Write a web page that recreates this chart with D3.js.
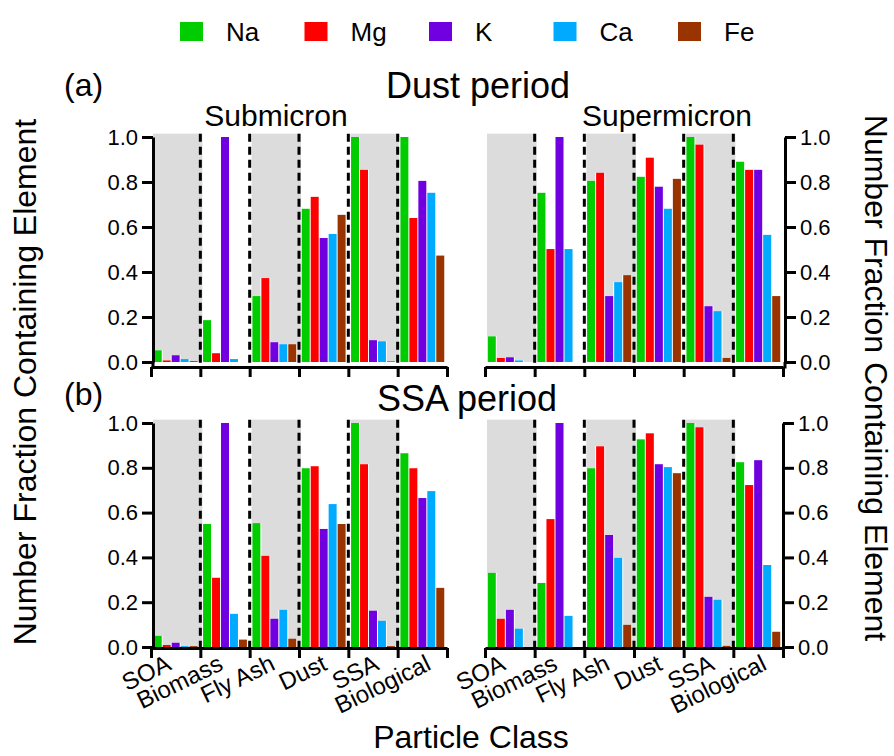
<!DOCTYPE html>
<html>
<head>
<meta charset="utf-8">
<script src="https://cdn.jsdelivr.net/npm/d3@7"></script>
<style>
  body { margin: 0; background: #fff; }
  svg text { font-family: "Liberation Sans", Arial, sans-serif; fill: #000; }
</style>
</head>
<body>
<div id="chart"></div>
<script>
// element fractions per particle class
const elements = ["Na", "Mg", "K", "Ca", "Fe"];
const colors = ["#00cc00", "#ff0000", "#7000e0", "#00aaff", "#993300"];
const classes = ["SOA", "Biomass", "Fly Ash", "Dust", "SSA", "Biological"];
const shadedClasses = ["SOA", "Fly Ash", "SSA"];
const yTicks = [0, 0.2, 0.4, 0.6, 0.8, 1.0];

// rows = classes, columns = Na, Mg, K, Ca, Fe
const dustSubmicron = [
    [0.052, 0.007, 0.030, 0.013, 0.004],
    [0.186, 0.039, 1.000, 0.013, 0.000],
    [0.293, 0.373, 0.088, 0.079, 0.079],
    [0.681, 0.734, 0.551, 0.569, 0.654],
    [1.000, 0.854, 0.097, 0.092, 0.003],
    [1.000, 0.640, 0.805, 0.752, 0.473]
];
const dustSupermicron = [
    [0.114, 0.018, 0.021, 0.007, 0.000],
    [0.752, 0.502, 1.000, 0.502, 0.000],
    [0.805, 0.841, 0.293, 0.355, 0.386],
    [0.823, 0.908, 0.779, 0.681, 0.814],
    [1.000, 0.966, 0.248, 0.226, 0.018],
    [0.890, 0.854, 0.854, 0.565, 0.293]
];
const ssaSubmicron = [
    [0.050, 0.009, 0.019, 0.004, 0.004],
    [0.549, 0.309, 1.000, 0.148, 0.033],
    [0.553, 0.407, 0.126, 0.166, 0.037],
    [0.798, 0.807, 0.527, 0.638, 0.549],
    [1.000, 0.816, 0.162, 0.117, 0.004],
    [0.865, 0.798, 0.665, 0.696, 0.264]
];
const ssaSupermicron = [
    [0.331, 0.126, 0.166, 0.082, 0.000],
    [0.286, 0.571, 1.000, 0.139, 0.000],
    [0.798, 0.896, 0.500, 0.398, 0.099],
    [0.927, 0.954, 0.816, 0.803, 0.776],
    [1.000, 0.981, 0.224, 0.211, 0.005],
    [0.825, 0.723, 0.834, 0.366, 0.068]
];

const W = 894, H = 756;
const svg = d3.select("#chart").append("svg")
    .attr("width", W).attr("height", H);

// panel layout
const panels = [
    { data: dustSubmicron,   x0: 151, x1: 447, yBase: 362, yTop: 137, axisY: 367, side: "left",  axisX: 153, labels: false },
    { data: dustSupermicron, x0: 485, x1: 783, yBase: 362, yTop: 137, axisY: 367, side: "right", axisX: 785, labels: false },
    { data: ssaSubmicron,    x0: 151, x1: 447, yBase: 647, yTop: 423, axisY: 648, side: "left",  axisX: 153, labels: true },
    { data: ssaSupermicron,  x0: 485, x1: 783, yBase: 647, yTop: 423, axisY: 648, side: "right", axisX: 783, labels: true }
];

panels.forEach(p => drawPanel(p));

function drawPanel(p) {
    const g = svg.append("g");

    const x = d3.scaleBand().domain(classes).range([p.x0, p.x1]).padding(0);
    const xIdx = d3.scaleLinear().domain([0, classes.length]).range([p.x0, p.x1]);
    const sub = d3.scaleBand().domain(elements).range([0, x.bandwidth()])
        .paddingInner(0).paddingOuter(0.25);
    const y = d3.scaleLinear().domain([0, 1]).range([p.yBase, p.yTop]);

    // gray background for alternating classes
    g.selectAll("rect.shade")
        .data(shadedClasses)
        .enter().append("rect")
        .attr("class", "shade")
        .attr("x", d => x(d) + 2)
        .attr("width", x.bandwidth())
        .attr("y", y(1.015))
        .attr("height", y(0) - y(1.015))
        .attr("fill", "#dcdcdc");

    // bars
    const groups = g.selectAll("g.cls")
        .data(p.data)
        .enter().append("g")
        .attr("transform", (d, i) => `translate(${x(classes[i])},0)`);

    groups.selectAll("rect.back")
        .data(d => d)
        .enter().append("rect")
        .attr("x", (d, j) => sub(elements[j]) - 0.5)
        .attr("width", sub.bandwidth() + 1)
        .attr("y", d => y(d))
        .attr("height", d => y(0) - y(d))
        .attr("fill", "#fff");

    groups.selectAll("rect.bar")
        .data(d => d)
        .enter().append("rect")
        .attr("x", (d, j) => sub(elements[j]) + 0.5)
        .attr("width", sub.bandwidth() - 1)
        .attr("y", d => y(d))
        .attr("height", d => y(0) - y(d))
        .attr("fill", (d, j) => colors[j]);

    // dashed separators between classes
    g.selectAll("line.sep")
        .data(d3.range(1, classes.length))
        .enter().append("line")
        .attr("x1", d => xIdx(d)).attr("x2", d => xIdx(d))
        .attr("y1", y(1.015)).attr("y2", p.axisY)
        .attr("stroke", "#000")
        .attr("stroke-width", 3)
        .attr("stroke-dasharray", "8,5");

    // y axis
    const yAxis = (p.side === "left" ? d3.axisLeft(y) : d3.axisRight(y))
        .tickValues(yTicks)
        .tickFormat(d3.format(".1f"))
        .tickSize(11)
        .tickSizeOuter(0)
        .tickPadding(4);
    const ya = g.append("g")
        .attr("transform", `translate(${p.axisX},0)`)
        .call(yAxis);
    ya.select(".domain").attr("stroke-width", 3);
    ya.selectAll(".tick line").attr("stroke-width", 3);
    ya.selectAll(".tick text").style("font-size", "22px")
        .attr("font-family", "Liberation Sans, Arial, sans-serif");
    g.append("line")
        .attr("x1", p.axisX).attr("x2", p.axisX)
        .attr("y1", y(0)).attr("y2", p.axisY + 1.5)
        .attr("stroke", "#000").attr("stroke-width", 3);

    // x axis (ticks at class boundaries)
    const xAxis = d3.axisBottom(xIdx)
        .tickValues(d3.range(classes.length + 1))
        .tickFormat("")
        .tickSize(10)
        .tickSizeOuter(0);
    const xa = g.append("g")
        .attr("transform", `translate(0,${p.axisY})`)
        .call(xAxis);
    xa.select(".domain").attr("stroke-width", 3);
    xa.selectAll(".tick line").attr("stroke-width", 3);

    if (p.labels) {
        g.selectAll("text.cls")
            .data(classes)
            .enter().append("text")
            .attr("text-anchor", "end")
            .attr("transform", (d, i) =>
                `translate(${x(d) + x.bandwidth() / 2 + i * 2.6 - 3},${p.axisY + 21}) rotate(-26)`)
            .style("font-size", "24px")
            .text(d => d);
    }
}

// legend
const legendX = d3.scaleLinear().domain([0, elements.length - 1]).range([180, 678]);
const legend = svg.append("g");
legend.selectAll("rect")
    .data(elements)
    .enter().append("rect")
    .attr("x", (d, i) => legendX(i))
    .attr("y", 22)
    .attr("width", 23)
    .attr("height", 19)
    .attr("fill", (d, i) => colors[i]);
legend.selectAll("text")
    .data(elements)
    .enter().append("text")
    .attr("x", (d, i) => legendX(i) + 46)
    .attr("y", 41)
    .style("font-size", "26px")
    .text(d => d);

// titles and labels
function label(txt, x, y, size, anchor, rot) {
    const t = svg.append("text")
        .attr("text-anchor", anchor || "middle")
        .style("font-size", size + "px")
        .text(txt);
    if (rot) t.attr("transform", `translate(${x},${y}) rotate(${rot})`);
    else t.attr("x", x).attr("y", y);
    return t;
}

label("(a)", 64, 96, 32, "start");
label("(b)", 64, 405, 32, "start");
label("Dust period", 478, 98, 36);
label("SSA period", 467, 411, 36);
label("Submicron", 276, 126, 30);
label("Supermicron", 667, 126, 30);
label("Particle Class", 471, 748, 32);
label("Number Fraction Containing Element", 36, 382, 32, "middle", -90);
label("Number Fraction Containing Element", 865, 378, 32, "middle", 90);
</script>
</body>
</html>
